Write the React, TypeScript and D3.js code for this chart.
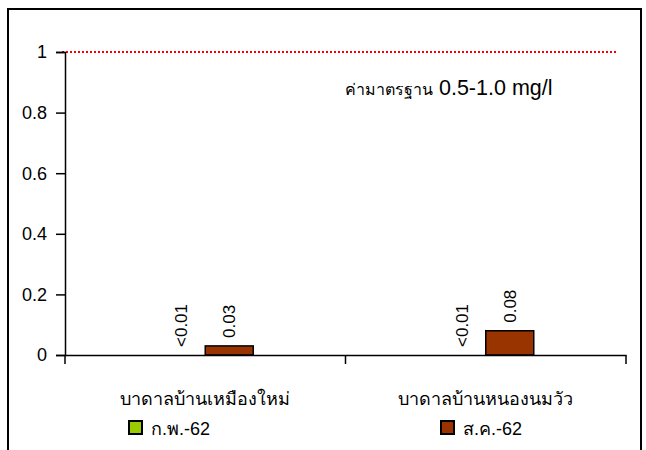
import { useEffect, useRef } from "react";
import * as d3 from "d3";

const categories = ["บาดาลบ้านเหมืองใหม่", "บาดาลบ้านหนองนมวัว"];
const seriesNames = ["ก.พ.-62", "ส.ค.-62"];
const seriesColors = ["#99CC00", "#993300"];
const febValues = [0, 0];
const febLabels = ["<0.01", "<0.01"];
const augValues = [0.03, 0.08];
const augLabels = ["0.03", "0.08"];
const yTicks = [0, 0.2, 0.4, 0.6, 0.8, 1];
const standardValue = 1;
const standardThai = "ค่ามาตรฐาน";
const standardRange = " 0.5-1.0 mg/l";

const W = 646;
const H = 450;
const FONT = "'Liberation Sans', 'Noto Sans', sans-serif";

const App = () => {
  const gY = useRef<SVGGElement | null>(null);
  const gX = useRef<SVGGElement | null>(null);

  const x = d3.scaleBand().domain(categories).range([65, 626]);
  const y = d3.scaleLinear().domain([0, 1]).range([355, 52]);
  const inner = d3.scaleBand().domain(seriesNames).range([-48, 48]);

  const series = [
    { name: seriesNames[0], values: febValues, labels: febLabels, color: seriesColors[0] },
    { name: seriesNames[1], values: augValues, labels: augLabels, color: seriesColors[1] },
  ];

  useEffect(() => {
    if (gY.current) {
      const g = d3.select(gY.current);
      g.call(d3.axisLeft(y).tickValues(yTicks).tickSize(9).tickFormat(() => ""));
      g.select(".domain").attr("stroke-width", 1.5);
      g.selectAll(".tick line").attr("stroke-width", 1.5);
    }
    if (gX.current) {
      const g = d3.select(gX.current);
      g.call(d3.axisBottom(x).tickSize(0).tickFormat(() => ""));
      g.select(".domain").attr("stroke-width", 1.5);
      g.selectAll(".tick").remove();
      // boundary ticks between categories
      const edges = [65, 65 + x.bandwidth(), 626];
      g.selectAll("line.edge")
        .data(edges)
        .join("line")
        .attr("class", "edge")
        .attr("x1", (d) => d)
        .attr("x2", (d) => d)
        .attr("y1", 0)
        .attr("y2", 9)
        .attr("stroke", "#000")
        .attr("stroke-width", 1.5);
    }
  }, []);

  return (
    <svg
      width={W}
      height={H}
      style={{ position: "absolute", left: 0, top: 0, background: "#fff" }}
      fontFamily={FONT}
    >
      <rect x={8} y={9} width={633} height={460} fill="#fff" stroke="#000" strokeWidth={2} />
      <line
        x1={62}
        x2={617}
        y1={y(standardValue)}
        y2={y(standardValue)}
        stroke="#ff0000"
        strokeWidth={2}
        strokeDasharray="2,2"
      />
      <text x={345} y={95} fontSize={16} fill="#000">
        {standardThai}
        <tspan fontSize={21.5}>{standardRange}</tspan>
      </text>
      <g>
        {series.map((s) =>
          categories.map((c, i) => {
            const cx = x(c)! + x.bandwidth() / 2 + inner(s.name)!;
            const bx = cx + inner.bandwidth() / 2;
            return (
              <g key={s.name + c}>
                {s.values[i] > 0 && (
                  <rect
                    x={cx}
                    y={y(s.values[i])}
                    width={inner.bandwidth()}
                    height={y(0) - y(s.values[i])}
                    fill={s.color}
                    stroke="#000"
                    strokeWidth={1.5}
                  />
                )}
                <text
                  transform={`translate(${bx + 6},${y(s.values[i]) - 8}) rotate(-90)`}
                  fontSize={17}
                  fill="#000"
                >
                  {s.labels[i]}
                </text>
              </g>
            );
          }),
        )}
      </g>
      <g ref={gY} transform="translate(65,0)" />
      <g>
        {yTicks.map((t) => (
          <text key={t} x={47} y={y(t)} dy="0.35em" textAnchor="end" fontSize={18} fill="#000">
            {d3.format("")(t)}
          </text>
        ))}
      </g>
      <g ref={gX} transform={`translate(0,${y(0)})`} />
      {categories.map((c) => (
        <text
          key={c}
          x={x(c)! + x.bandwidth() / 2}
          y={405}
          textAnchor="middle"
          fontSize={18}
          fill="#000"
        >
          {c}
        </text>
      ))}
      {series.map((s, i) => {
        const lx = i === 0 ? 128 : 440;
        return (
          <g key={s.name} transform={`translate(${lx},420)`}>
            <rect x={1} y={1} width={13} height={13} fill={s.color} stroke="#000" strokeWidth={2} />
            <text x={23} y={15} fontSize={18} fill="#000">
              {s.name}
            </text>
          </g>
        );
      })}
    </svg>
  );
};

export default App;
